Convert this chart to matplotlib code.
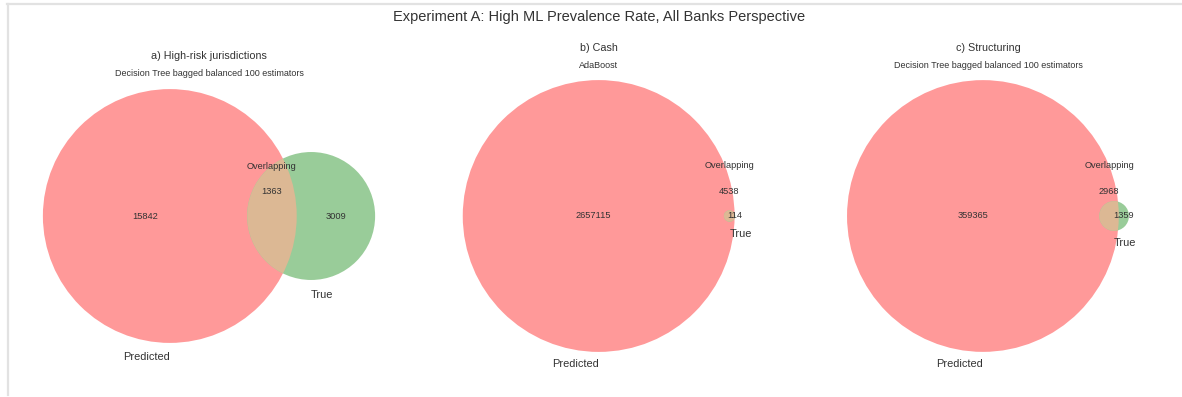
import numpy as np
import matplotlib
matplotlib.use("Agg")
import matplotlib.pyplot as plt
from matplotlib.patches import Circle
from matplotlib.lines import Line2D

# ---------------- data ----------------
suptitle = "Experiment A: High ML Prevalence Rate, All Banks Perspective"
panel_titles = ["a) High-risk jurisdictions", "b) Cash", "c) Structuring"]
model_names = ["Decision Tree bagged balanced 100 estimators",
               "AdaBoost",
               "Decision Tree bagged balanced 100 estimators"]
predicted_only = [15842, 2657115, 359365]
overlapping = [1363, 4538, 2968]
true_only = [3009, 114, 1359]
set_labels = ["Predicted", "True"]
overlap_label = "Overlapping"

# ---------------- style ----------------
plt.rcParams['font.family'] = ['Liberation Sans', 'DejaVu Sans']
TXT = '#333333'
RED = '#ff9999'
GREEN = '#99cc99'
MIX = '#dcb894'

W, H = 1182, 397
fig = plt.figure(figsize=(W / 100, H / 100), dpi=100)


def overlap_area(r1, r2, d):
    if d >= r1 + r2:
        return 0.0
    if d <= abs(r1 - r2):
        return np.pi * min(r1, r2) ** 2
    a1 = r1 ** 2 * np.arccos((d ** 2 + r1 ** 2 - r2 ** 2) / (2 * d * r1))
    a2 = r2 ** 2 * np.arccos((d ** 2 + r2 ** 2 - r1 ** 2) / (2 * d * r2))
    a3 = 0.5 * np.sqrt((-d + r1 + r2) * (d + r1 - r2) * (d - r1 + r2) * (d + r1 + r2))
    return a1 + a2 - a3


def solve_distance(r1, r2, target):
    lo, hi = abs(r1 - r2), r1 + r2
    for _ in range(200):
        mid = 0.5 * (lo + hi)
        if overlap_area(r1, r2, mid) > target:
            lo = mid
        else:
            hi = mid
    return 0.5 * (lo + hi)


# subplot boxes (pixels)
lefts = [18.5, 408.5, 797.5]
box_w, box_top, box_h = 381, 56, 320

for i in range(3):
    a, ab, b = predicted_only[i], overlapping[i], true_only[i]
    total = a + ab + b
    A = (a + ab) / total
    B = (b + ab) / total
    AB = ab / total
    r1 = np.sqrt(A / np.pi)
    r2 = np.sqrt(B / np.pi)
    d = solve_distance(r1, r2, AB)
    c1, c2 = 0.0, d

    ax = fig.add_axes([lefts[i] / W, (H - box_top - box_h) / H, box_w / W, box_h / H])
    p = Circle((c1, 0), r1, facecolor=RED, edgecolor='none', zorder=1)
    t = Circle((c2, 0), r2, facecolor=GREEN, edgecolor='none', zorder=1)
    m = Circle((c2, 0), r2, facecolor=MIX, edgecolor='none', zorder=2)
    ax.add_patch(p)
    ax.add_patch(t)
    ax.add_patch(m)
    m.set_clip_path(p)

    rmax = max(r1, r2)
    ax.set_xlim(min(c1 - r1, c2 - r2) - 0.1, max(c1 + r1, c2 + r2) + 0.1)
    ax.set_ylim(-rmax - 0.1, rmax + 0.1)
    ax.set_aspect('equal', adjustable='box', anchor='C')
    ax.axis('off')

    fs_num = 6.7
    # subset labels
    xa = ((c1 - r1) + (c2 - r2)) / 2
    xb = ((c1 + r1) + (c2 + r2)) / 2
    xab = ((c2 - r2) + (c1 + r1)) / 2
    ax.text(xa, 0, str(a), ha='center', va='center', fontsize=fs_num, color=TXT, zorder=5)
    ax.text(xb, 0, str(b), ha='center', va='center', fontsize=fs_num, color=TXT, zorder=5)
    ax.annotate(str(ab), (xab, 0), xytext=(0, 18), textcoords='offset points',
                ha='center', va='center', fontsize=fs_num, color=TXT, zorder=5)
    ax.annotate(overlap_label, (xab, 0), xytext=(0, 36), textcoords='offset points',
                ha='center', va='center', fontsize=fs_num, color=TXT, zorder=5)

    # set labels
    pad = np.mean([r1, r2]) * 0.1
    ax.text(c1, -r1 - pad, set_labels[0], ha='right', va='top', fontsize=7.9, color=TXT)
    ax.text(c2, -r2 - pad, set_labels[1], ha='left', va='top', fontsize=7.9, color=TXT)

    # titles
    ax.annotate(panel_titles[i], (0.5, 1.0), xycoords='axes fraction', xytext=(0, 6),
                textcoords='offset points', ha='center', va='center', fontsize=7.75, color=TXT)
    ax.annotate(model_names[i], (0.5, 1.0), xycoords='axes fraction', xytext=(0, -6.5),
                textcoords='offset points', ha='center', va='center', fontsize=6.5, color=TXT)

fig.text(599 / W, 1 - 17 / H, suptitle, ha='center', va='center', fontsize=10.5, color=TXT)

# screenshot frame lines
fig.add_artist(Line2D([7 / W, 1], [1 - 3.5 / H, 1 - 3.5 / H], color='#e2e2e2', lw=1.6))
fig.add_artist(Line2D([7.5 / W, 7.5 / W], [2 / H, 1 - 3.5 / H], color='#e2e2e2', lw=1.6))

fig.savefig('out.png', dpi=100, facecolor='white')
